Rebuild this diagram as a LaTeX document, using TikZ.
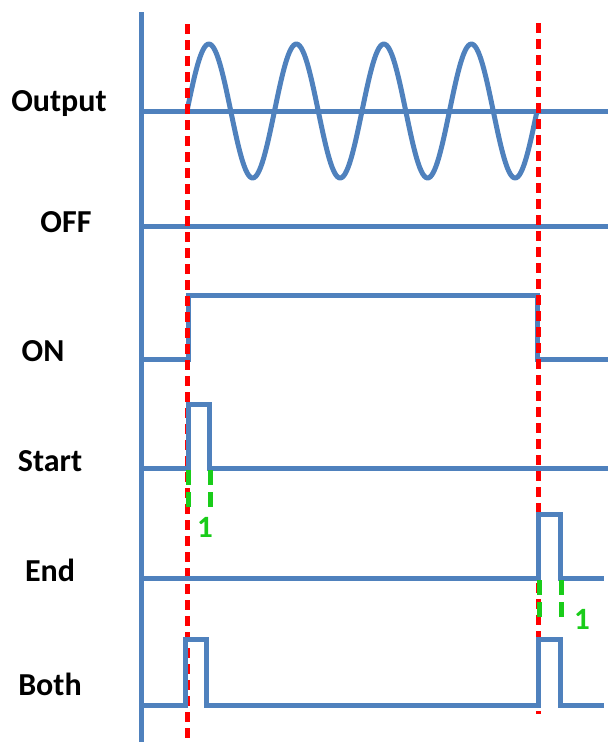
\documentclass[tikz,border=0pt]{standalone}
\usepackage{fontspec}
\setmainfont{Carlito}
\definecolor{sigblue}{HTML}{4F81BD}
\definecolor{markred}{HTML}{FF0000}
\definecolor{markgreen}{HTML}{1ACC1A}
\begin{document}
\begin{tikzpicture}[x=1pt,y=-1pt,
  sig/.style={draw=sigblue,line width=5pt,line join=miter},
  redmark/.style={draw=markred,line width=5pt,dash pattern=on 10pt off 6pt},
  greenmark/.style={draw=markgreen,line width=5pt,dash pattern=on 15pt off 7pt},
  lbl/.style={font=\fontsize{32}{34}\selectfont\bfseries,text=black,inner sep=0pt},
  onelbl/.style={font=\fontsize{31}{33}\selectfont\bfseries,text=markgreen,inner sep=0pt}]
\useasboundingbox (0,0) rectangle (608,742);
% labels
\node[lbl] (lout) at (59,104) {Output};
\node[lbl] (loff) at (66,222) {OFF};
\node[lbl] (lon) at (43,351) {ON};
\node[lbl] (lstart) at (50,461) {Start};
\node[lbl] (lend) at (50,570) {End};
\node[lbl] (lboth) at (50,684) {Both};
% axis
\draw[sig] (141,12) -- (141,742);
% output
\draw[sig] (141,111) -- (608,111);
\draw[sig,line join=round] plot[domain=0:350,samples=240,smooth] ({187+\x},{111-67*sin(4.1142857*\x)});
% off
\draw[sig] (141,226) -- (608,226);
% on
\draw[sig] (141,359) -- (188,359) -- (188,295) -- (537,295) -- (537,359) -- (608,359);
% red markers
\coordinate (r1t) at (187,24);
\coordinate (r1b) at (187,742);
\coordinate (r2t) at (538,23);
\coordinate (r2b) at (538,714);
\draw[redmark] (r1t) -- (r1b);
\draw[redmark] (r2t) -- (r2b);
% start
\draw[sig] (141,468) -- (188,468) -- (188,404) -- (209,404) -- (209,468) -- (608,468);
% end
\draw[sig] (141,578) -- (538,578) -- (538,514) -- (560,514) -- (560,578) -- (604,578);
% both
\draw[sig] (141,705) -- (185,705) -- (185,639) -- (206,639) -- (206,705) -- (538,705) -- (538,639) -- (560,639) -- (560,705) -- (604,705);
% green markers
\draw[greenmark] (188,470) -- (188,508);
\draw[greenmark] (210,470) -- (210,508);
\node[onelbl] (one1) at (205,527) {1};
\draw[greenmark] (539,580) -- (539,618);
\draw[greenmark] (561,580) -- (561,618);
\node[onelbl] (one2) at (582,619) {1};
\end{tikzpicture}
\end{document}
